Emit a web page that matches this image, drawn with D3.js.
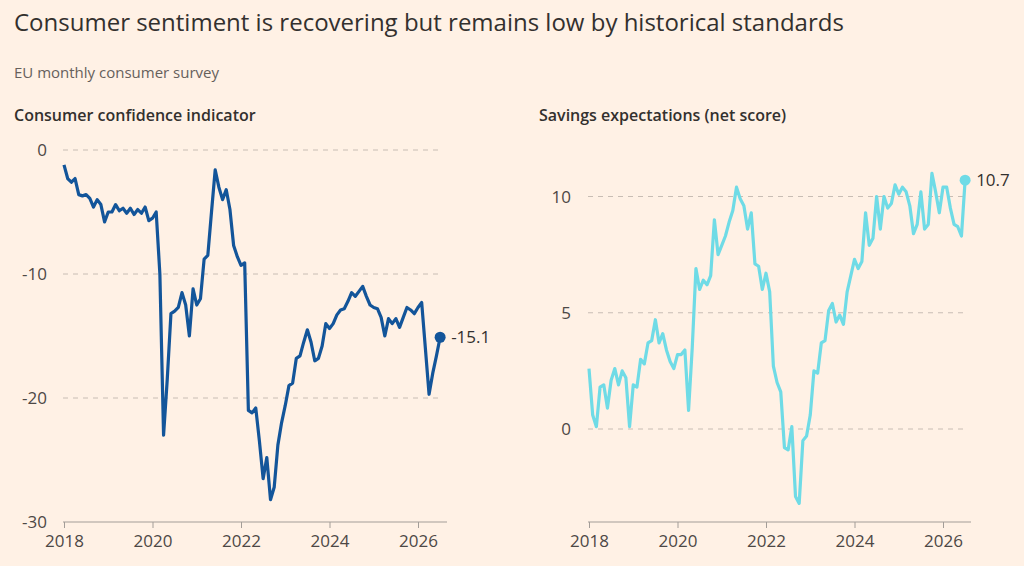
<!DOCTYPE html>
<html><head><meta charset="utf-8">
<script src="https://cdn.jsdelivr.net/npm/d3@7"></script>
<style>body{margin:0;background:#FFF1E5}svg{display:block}text{font-family:"Open Sans",sans-serif}</style>
</head><body><svg id="c" width="1024" height="566"></svg>
<script>
const startYear = 2018;
const confidence = [
-1.2,-2.3,-2.6,-2.3,-3.6,-3.7,-3.6,-3.9,-4.6,-4.0,-4.4,-5.8,
-5.0,-5.0,-4.4,-4.9,-4.7,-5.1,-4.7,-5.2,-4.8,-5.1,-4.6,-5.7,
-5.5,-5.0,-10.0,-23.0,-18.5,-13.2,-13.0,-12.7,-11.5,-12.5,-15.0,-11.2,
-12.5,-12.0,-8.8,-8.5,-5.0,-1.6,-3.0,-4.0,-3.2,-4.8,-7.7,-8.6,
-9.3,-9.1,-21.0,-21.2,-20.8,-23.5,-26.5,-24.8,-28.2,-27.2,-23.8,-22.0,
-20.6,-19.0,-18.8,-16.8,-16.6,-15.5,-14.5,-15.5,-17.0,-16.8,-15.8,-14.0,
-14.4,-14.0,-13.3,-12.9,-12.8,-12.2,-11.5,-11.8,-11.4,-11.0,-11.8,-12.5,
-12.7,-12.8,-13.5,-15.0,-13.6,-14.0,-13.6,-14.3,-13.5,-12.7,-12.9,-13.2,
-12.7,-12.3,-16.0,-19.7,-18.0,-16.6,-15.1];
const savings = [
2.6,0.6,0.1,1.8,1.9,0.9,2.1,2.6,1.9,2.5,2.2,0.1,
1.9,1.8,3.0,2.8,3.7,3.8,4.7,3.7,4.1,3.4,2.9,2.6,
3.2,3.2,3.4,0.8,3.5,6.9,6.0,6.4,6.2,6.6,9.0,7.5,
7.9,8.3,8.9,9.4,10.4,9.9,9.6,8.6,9.3,7.1,7.0,6.0,
6.7,5.9,2.7,2.0,1.6,-0.8,-0.9,0.1,-2.9,-3.2,-0.5,-0.3,
0.6,2.5,2.4,3.7,3.8,5.1,5.4,4.6,4.9,4.5,5.9,6.6,
7.3,6.9,7.2,9.3,7.9,8.2,10.0,8.6,10.0,9.5,9.7,10.5,
10.1,10.4,10.2,9.6,8.4,8.8,10.2,8.6,8.8,11.0,10.2,9.3,
10.4,10.4,9.5,8.8,8.7,8.3,10.7];
const xTicks = [2018,2020,2022,2024,2026];
const confTicks = [0,-10,-20,-30];
const savTicks = [0,5,10];

const svg = d3.select("#c");
svg.append("text").attr("x",14).attr("y",31).attr("font-size",24).attr("fill","#33302e").text("Consumer sentiment is recovering but remains low by historical standards");
svg.append("text").attr("x",14).attr("y",78).attr("font-size",15).attr("fill","#66605c").text("EU monthly consumer survey");

function panel(o){
  const g = svg.append("g");
  g.append("text").attr("x",o.tx).attr("y",121).attr("font-size",16).attr("font-weight",600).attr("fill","#33302e").text(o.title);
  const x = d3.scaleLinear().domain([2018,2026]).range([o.x0,o.x1]);
  const y = d3.scaleLinear().domain(o.dom).range([522,150]);
  const t = i => startYear + i/12;
  o.ticks.forEach(v=>{
    if (v!==o.dom[0]) g.append("line").attr("x1",o.gx0).attr("x2",o.gx1).attr("y1",y(v)).attr("y2",y(v)).attr("stroke","#c8bdb4").attr("stroke-dasharray","5,5");
    g.append("text").attr("x",o.lx).attr("y",y(v)+6).attr("text-anchor","end").attr("font-size",17).attr("fill","#4d4845").text(v);
  });
  const xa = g.append("g").attr("transform","translate(0,522)")
    .call(d3.axisBottom(x).tickValues(xTicks).tickFormat(d3.format("d")).tickSize(6).tickSizeOuter(0));
  xa.select(".domain").attr("stroke","#a39d98").attr("d",`M${o.gx0},0H${o.ax1}`);
  xa.selectAll(".tick line").attr("stroke","#a39d98");
  xa.selectAll(".tick text").attr("font-size",17).attr("fill","#4d4845").attr("dy","0.95em").style("font-family","'Open Sans',sans-serif");
  g.append("path").datum(o.data).attr("fill","none").attr("stroke",o.color).attr("stroke-width",3.2).attr("stroke-linejoin","round")
    .attr("d",d3.line().x((d,i)=>x(t(i))).y(d=>y(d)));
  const n=o.data.length-1;
  g.append("circle").attr("cx",x(t(n))).attr("cy",y(o.data[n])).attr("r",5.5).attr("fill",o.color);
  g.append("text").attr("x",x(t(n))+11).attr("y",y(o.data[n])+6).attr("font-size",17).attr("fill","#33302e").text(o.data[n].toFixed(1));
}
panel({title:"Consumer confidence indicator",tx:14,data:confidence,color:"#13559a",dom:[-30,0],ticks:confTicks,x0:64,x1:418,gx0:63,gx1:442,ax1:447,lx:47});
panel({title:"Savings expectations (net score)",tx:539,data:savings,color:"#6fdbe6",dom:[-4,12],ticks:savTicks,x0:589,x1:943,gx0:588,gx1:966,ax1:971,lx:571});
</script></body></html>
